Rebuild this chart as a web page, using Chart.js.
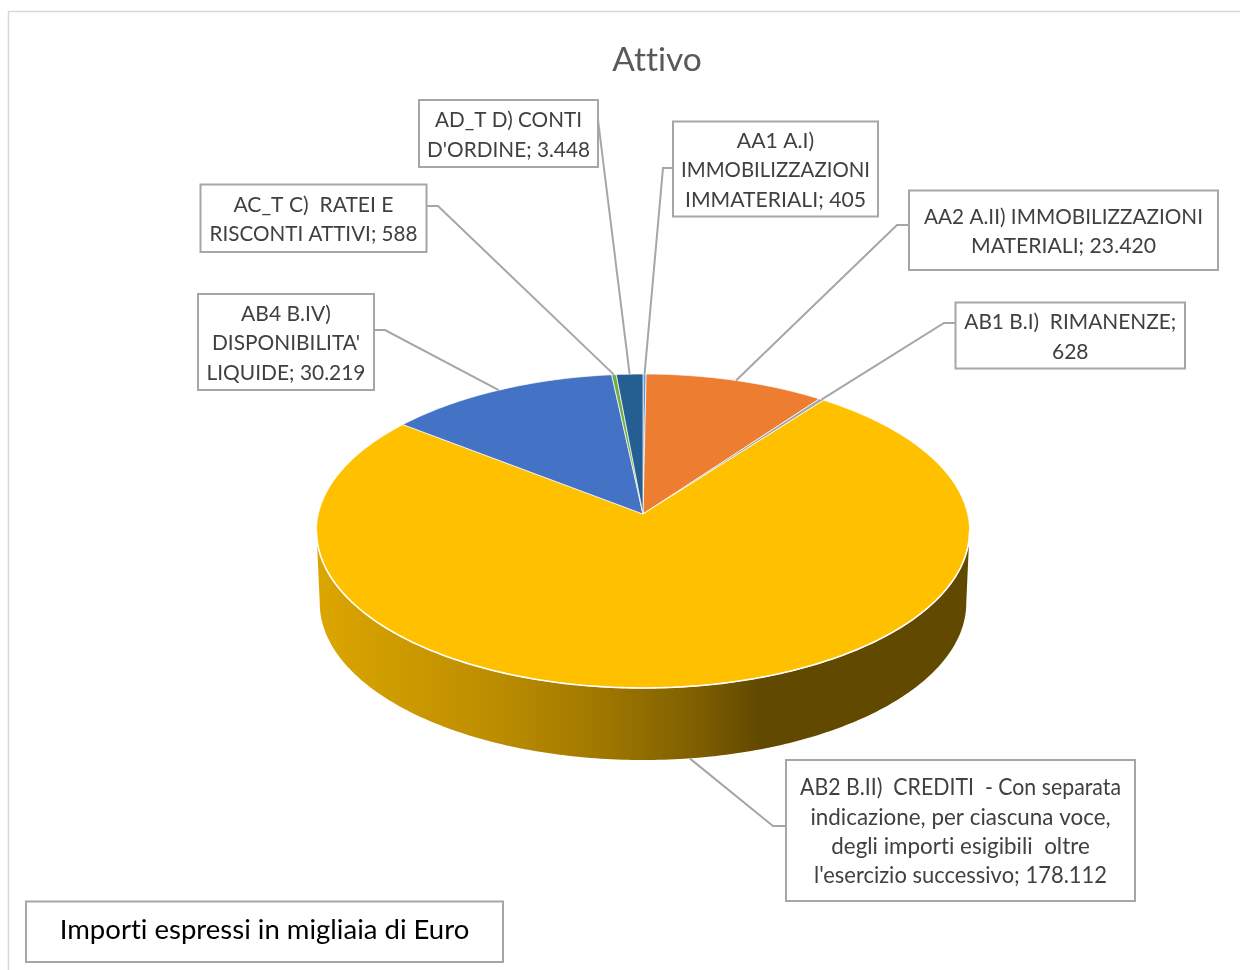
<!DOCTYPE html>
<html><head><meta charset="utf-8">
<style>html,body{margin:0;padding:0;background:#fff;overflow:hidden}canvas{display:block;position:absolute;left:0;top:0}</style>
<script src="https://cdn.jsdelivr.net/npm/chart.js@4"></script>
</head><body>
<canvas id="c" width="1240" height="970"></canvas>
<script>
const categories = ['AA1 A.I) IMMOBILIZZAZIONI IMMATERIALI','AA2 A.II) IMMOBILIZZAZIONI MATERIALI','AB1 B.I)  RIMANENZE',"AB2 B.II)  CREDITI  - Con separata indicazione, per ciascuna voce, degli importi esigibili  oltre l'esercizio successivo","AB4 B.IV) DISPONIBILITA' LIQUIDE",'AC_T C)  RATEI E RISCONTI ATTIVI',"AD_T D) CONTI D'ORDINE"];
const values = [405, 23420, 628, 178112, 30219, 588, 3448];
const colors = ['#5B9BD5','#ED7D31','#A5A5A5','#FFC000','#4472C4','#70AD47','#255E91'];
const labelLines = [
  ['AA1 A.I)','IMMOBILIZZAZIONI','IMMATERIALI; 405'],
  ['AA2 A.II) IMMOBILIZZAZIONI','MATERIALI; 23.420'],
  ['AB1 B.I)  RIMANENZE;','628'],
  ['AB2 B.II)  CREDITI  - Con separata','indicazione, per ciascuna voce,','degli importi esigibili  oltre',"l'esercizio successivo; 178.112"],
  ['AB4 B.IV)',"DISPONIBILITA'",'LIQUIDE; 30.219'],
  ['AC_T C)  RATEI E','RISCONTI ATTIVI; 588'],
  ['AD_T D) CONTI',"D'ORDINE; 3.448"]
];
const titleText = 'Attivo';
const noteText = 'Importi espressi in migliaia di Euro';

// label box layout: left, top, right, bottom, elbow x, elbow y, box-side x
const boxes = [
  [673,121.5,878,216.5, 663,168, 673],
  [909,190.5,1218,270, 897,225, 909],
  [955.5,302.5,1185,368.5, 944,323, 955.5],
  [786,760,1135,901, 773,826, 786],
  [198,294,374,390, 385,330, 374],
  [200.5,184.5,426.5,252, 438,206, 426.5],
  [419,100,598,167, 598,120, 598]
];
const labelFontSizes = [21.2,21.3,21,22.4,21,21.2,20.8];
const labelMaxWidths = [[79,189,181],[279,185],[212,37],[321,301,259,293],[90,148,159],[160,208],[147,163]];
const C = -0.1083, TILT = 0.478, DEPTH = 72, SHRINK = 0.99;
const FONT = 'Lato, Carlito, sans-serif';

function rim(arc, a, lower){
  const u = Math.cos(a), v = Math.sin(a);      // a is the chart's own arc angle
  const w = 1 + C*v, R = arc.outerRadius;
  const dx = R*u/w, dy = R*TILT*v/w;
  return lower ? [arc.x + dx*SHRINK, arc.y + dy + DEPTH] : [arc.x + dx, arc.y + dy];
}
const pie3d = {
  id:'pie3d',
  afterLayout(chart){ chart.titleBlock.left += 28; },
  beforeDraw(chart){ chart.ctx.letterSpacing='0.01px'; },
  beforeDatasetDraw(chart){
    const ctx = chart.ctx, arcs = chart.getDatasetMeta(0).data, ref = arcs[0];
    const frontA = Math.asin(0.1083);
    // side wall, only the arc facing the viewer
    const aL = Math.PI - frontA, aR = frontA;
    const g = ctx.createLinearGradient(317,0,760,0);
    g.addColorStop(0,'#DCA600'); g.addColorStop(0.4,'#BC8D00'); g.addColorStop(0.64,'#A07800'); g.addColorStop(0.865,'#7D5E00'); g.addColorStop(1,'#614900');
    ctx.save();
    ctx.beginPath();
    const n = 200;
    for(let i=0;i<=n;i++){const p=rim(ref,aR+(aL-aR)*i/n,false); i?ctx.lineTo(p[0],p[1]):ctx.moveTo(p[0],p[1]);}
    for(let i=n;i>=0;i--){const p=rim(ref,aR+(aL-aR)*i/n,true); ctx.lineTo(p[0],p[1]);}
    ctx.closePath(); ctx.fillStyle=g; ctx.fill();
    // top slices
    arcs.forEach((arc,i)=>{
      const s=arc.startAngle,e=arc.endAngle,m=Math.max(2,Math.ceil((e-s)*60));
      ctx.beginPath(); ctx.moveTo(arc.x,arc.y);
      for(let k=0;k<=m;k++){const p=rim(arc,s+(e-s)*k/m,false); ctx.lineTo(p[0],p[1]);}
      ctx.closePath();
      ctx.fillStyle=colors[i]; ctx.fill();
      ctx.strokeStyle='#fff'; ctx.lineWidth=0.7; ctx.lineJoin='round'; ctx.stroke();
    });
    // white seam between the top face and the wall
    ctx.beginPath();
    for(let i=0;i<=n;i++){const p=rim(ref,aR+(aL-aR)*i/n,false); i?ctx.lineTo(p[0],p[1]):ctx.moveTo(p[0],p[1]);}
    ctx.strokeStyle='#fff'; ctx.lineWidth=1.6; ctx.stroke();
    ctx.restore();
    return false;
  },
  afterDatasetsDraw(chart){
    const ctx = chart.ctx, arcs = chart.getDatasetMeta(0).data;
    ctx.save();
    // frame
    ctx.strokeStyle='#D9D9D9'; ctx.lineWidth=1.5;
    ctx.beginPath(); ctx.moveTo(8.5,970); ctx.lineTo(8.5,11.5); ctx.lineTo(1240,11.5); ctx.stroke();
    // leaders
    arcs.forEach((arc,i)=>{
      const b=boxes[i], mid=(arc.startAngle+arc.endAngle)/2;
      const p=rim(arc,mid,i===3);
      ctx.strokeStyle='#A6A6A6'; ctx.lineWidth=2;
      ctx.beginPath(); ctx.moveTo(p[0],p[1]); ctx.lineTo(b[4],b[5]); ctx.lineTo(b[6],b[5]); ctx.stroke();
    });
    // boxes
    arcs.forEach((arc,i)=>{
      const b=boxes[i];
      ctx.fillStyle='#fff'; ctx.fillRect(b[0],b[1],b[2]-b[0],b[3]-b[1]);
      ctx.strokeStyle='#A6A6A6'; ctx.lineWidth=2; ctx.strokeRect(b[0],b[1],b[2]-b[0],b[3]-b[1]);
      const L=labelLines[i], cy=(b[1]+b[3])/2+1.6, cx=(b[0]+b[2])/2;
      ctx.fillStyle='#404040'; ctx.font=labelFontSizes[i]+'px '+FONT; ctx.textAlign='center'; ctx.textBaseline='middle';
      L.forEach((t,k)=>ctx.fillText(t,cx,cy+(k-(L.length-1)/2)*29.4,labelMaxWidths[i][k]));
    });
    // note
    ctx.fillStyle='#fff'; ctx.fillRect(26,901.5,477,60.5);
    ctx.strokeStyle='#A6A6A6'; ctx.lineWidth=2; ctx.strokeRect(26,901.5,477,60.5);
    ctx.fillStyle='#000'; ctx.font='27.5px '+FONT; ctx.textAlign='center'; ctx.textBaseline='middle';
    ctx.fillText(noteText,264.5,930);
    ctx.restore();
  }
};
new Chart(document.getElementById('c'),{
  type:'pie',
  data:{labels:categories,datasets:[{data:values,backgroundColor:colors,borderWidth:0}]},
  plugins:[pie3d],
  options:{
    responsive:false,animation:false,devicePixelRatio:1,
    layout:{padding:{left:318.4,right:272.4,top:0,bottom:131.4}},
    plugins:{
      legend:{display:false},tooltip:{enabled:false},
      title:{display:true,text:titleText,color:'#595959',font:{family:FONT,size:33.5,weight:'normal',lineHeight:1.2},padding:{top:40,bottom:189.4-40-40.2}}
    }
  }
});
</script>
</body></html>
